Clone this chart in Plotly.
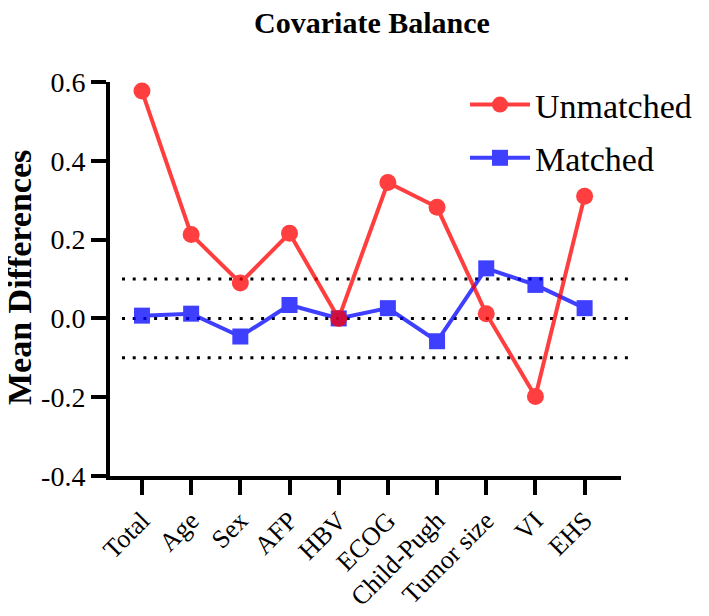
import plotly.graph_objects as go

categories = ["Total", "Age", "Sex", "AFP", "HBV", "ECOG", "Child-Pugh", "Tumor size", "VI", "EHS"]
unmatched = [0.577, 0.213, 0.090, 0.216, 0.000, 0.345, 0.282, 0.012, -0.198, 0.310]
matched = [0.007, 0.012, -0.046, 0.034, 0.000, 0.026, -0.058, 0.127, 0.085, 0.026]
ref_lines = [0.1, 0.0, -0.1]
y_ticks = [-0.4, -0.2, 0.0, 0.2, 0.4, 0.6]
y_tick_text = ["-0.4", "-0.2", "0.0", "0.2", "0.4", "0.6"]

FONT = "Liberation Serif"
x_idx = list(range(len(categories)))

# the page body adds an 8px margin; size the figure so it fills the window
W, H = 701, 608
L, R, T, B = 102, 88, 74, 140
PW, PH = W - L - R, H - T - B

fig = go.Figure()
fig.add_trace(go.Scatter(
    x=x_idx, y=matched, name="Matched", mode="lines+markers",
    line=dict(color="rgb(0,0,255)", width=4),
    marker=dict(symbol="square", size=16, color="rgb(0,0,255)"),
    opacity=0.75, legendrank=2, legendgroup="m", cliponaxis=False,
))
fig.add_trace(go.Scatter(
    x=x_idx, y=unmatched, name="Unmatched", mode="lines+markers",
    line=dict(color="rgb(255,0,0)", width=4),
    marker=dict(symbol="circle", size=17, color="rgb(255,0,0)"),
    opacity=0.75, legendrank=1, legendgroup="u", cliponaxis=False,
))

shapes = []
for v in ref_lines:
    shapes.append(dict(type="line", xref="paper", yref="y", x0=12/PW, x1=1 + 9/PW, y0=v, y1=v,
                       line=dict(color="black", width=3, dash="3px,7.7px"), layer="below"))

fig.update_layout(
    width=W, height=H,
    margin=dict(l=L, r=R, t=T, b=B, autoexpand=False),
    plot_bgcolor="white", paper_bgcolor="white",
    font=dict(family=FONT, color="black", size=28),
    title=dict(text="<b>Covariate Balance</b>", x=364/W, xref="container", xanchor="center",
               y=1 - 14/H, yref="container", yanchor="middle",
               font=dict(family=FONT, size=30, color="black")),
    shapes=shapes,
    annotations=[dict(text="<b>Mean Differences</b>", xref="paper", yref="paper",
                      x=(11 - L)/PW, y=1 - (270 - T)/PH, xanchor="center", yanchor="middle",
                      textangle=-90, showarrow=False,
                      font=dict(family=FONT, size=34, color="black"))],
    showlegend=True,
    legend=dict(x=(457-L)/PW, y=1 + (T-68)/PH, xanchor="left", yanchor="top",
                font=dict(family=FONT, size=34, color="black"),
                bgcolor="rgba(0,0,0,0)", tracegroupgap=6, itemwidth=60),
    xaxis=dict(
        range=[-0.65, 9.74], tickmode="array", tickvals=x_idx, ticktext=categories,
        tickangle=-45, showgrid=False, zeroline=False, showline=True, linecolor="black",
        linewidth=4, ticks="outside", ticklen=15, tickwidth=4, tickcolor="black",
        tickfont=dict(family=FONT, size=26, color="black"), automargin=False,
    ),
    yaxis=dict(
        range=[-0.4, 0.6], tickmode="array", tickvals=y_ticks, ticktext=y_tick_text,
        showgrid=False, zeroline=False, showline=True, linecolor="black", linewidth=4,
        ticks="outside", ticklen=15, tickwidth=4, tickcolor="black",
        tickfont=dict(family=FONT, size=28, color="black"), automargin=False,
    ),
)

fig.write_html("out.html")
